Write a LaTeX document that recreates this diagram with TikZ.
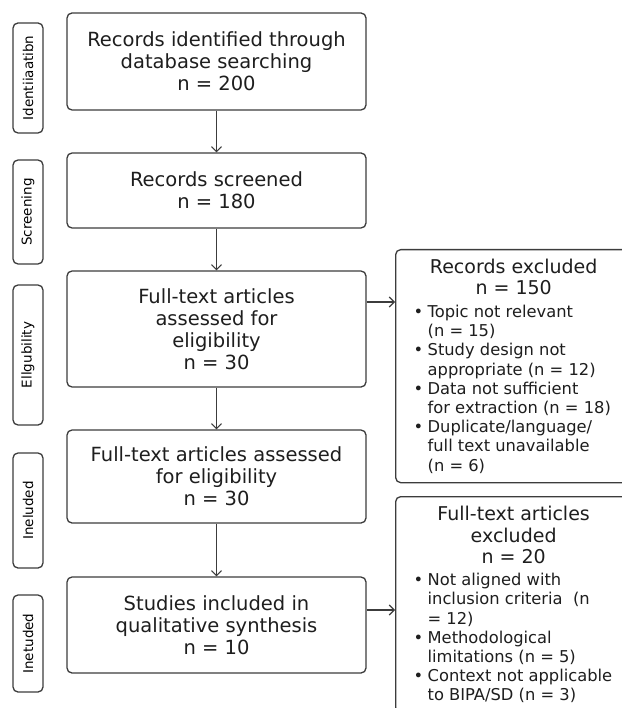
\documentclass[tikz,border=0pt]{standalone}
\usepackage{fontspec}
\setmainfont{DejaVu Sans}
\usetikzlibrary{arrows.meta}

\definecolor{linegray}{HTML}{3C3C3C}
\definecolor{textgray}{HTML}{1E1E1E}

\newcommand{\bul}{\makebox[14pt][l]{\textbullet}}
\newcommand{\exline}[1]{\makebox[200pt][l]{#1}}
\newcommand{\excont}[1]{\makebox[200pt][l]{\hspace*{14pt}#1}}
\newcommand{\exhead}[1]{{\fontsize{19}{19.2}\selectfont #1}}

\tikzset{
  stage/.style={draw=linegray, fill=white, line width=1.3pt, rounded corners=5pt, minimum width=299pt, inner sep=0pt, align=center, text=textgray, font=\fontsize{19.5}{22}\selectfont},
  phase/.style={draw=linegray, fill=white, line width=1.3pt, rounded corners=5pt, rotate=90, minimum height=30pt, inner sep=0pt, text=black, font=\fontsize{13.5}{15}\selectfont},
  exclbox/.style={draw=linegray, fill=white, line width=1.3pt, rounded corners=5pt, anchor=north west, minimum width=236pt, inner sep=0pt, align=center, text=textgray, font=\fontsize{16.3}{19.2}\selectfont},
  arr/.style={draw=linegray, line width=1.1pt, -{Straight Barb[length=5pt,width=10pt]}}
}

\begin{document}
\begin{tikzpicture}[x=1pt,y=-1pt]

\useasboundingbox (0,0) rectangle (621,708);

% phases on the left
\node[phase, minimum width=110pt] (pident) at (28,78) {Identiiaatibn};
\node[phase, minimum width=104pt] (pscreen) at (28,212) {Screening};
\node[phase, minimum width=140pt] (pelig) at (28,355) {Ellgubility};
\node[phase, minimum width=115pt] (pincl) at (28,510.5) {Ineluded};
\node[phase, minimum width=97pt] (pinet) at (28,643.5) {Inetuded};

% main flow
\node[stage, minimum height=97pt] (ident) at (216.5,61.5) {Records identified through\\database searching\\n = 200};
\node[stage, minimum height=75pt] (screen) at (216.5,190.5) {Records screened\\n = 180};
\node[stage, minimum height=116pt] (elig) at (216.5,329) {Full-text articles\\assessed for\\eligibility\\n = 30};
\node[stage, minimum height=93pt] (incl) at (216.5,476.5) {Full-text articles assessed\\for eligibility\\n = 30};
\node[stage, minimum height=96pt] (synth) at (216.5,625) {Studies included in\\qualitative synthesis\\n = 10};

% exclusions
\node[exclbox, minimum height=233pt] (excl1) at (395,249) {\exhead{Records excluded}\\[1.8pt]
  \exhead{n = 150}\\[3.8pt]
  \exline{\bul Topic not relevant}\\
  \excont{(n = 15)}\\
  \exline{\bul Study design not}\\
  \excont{appropriate (n = 12)}\\
  \exline{\bul Data not sufficient}\\
  \excont{for extraction (n = 18)}\\
  \exline{\bul Duplicate/language/}\\
  \excont{full text unavailable}\\
  \excont{(n = 6)}};

\node[exclbox, minimum height=216pt] (excl2) at (395,496) {\exhead{Full-text articles}\\[2.3pt]
  \exhead{excluded}\\[2.3pt]
  \exhead{n = 20}\\[2.8pt]
  \exline{\bul Not aligned with}\\
  \excont{inclusion criteria\ \ (n}\\
  \excont{= 12)}\\
  \exline{\bul Methodological}\\
  \excont{limitations (n = 5)}\\
  \exline{\bul Context not applicable}\\
  \excont{to BIPA/SD (n = 3)}};

% arrows
\draw[arr] (ident) -- (screen);
\draw[arr] (screen) -- (elig);
\draw[arr] (elig) -- (incl);
\draw[arr] (incl) -- (synth);
\draw[arr] ([yshift=27pt]elig.east) -- ([yshift=27pt]elig.east -| excl1.west);
\draw[arr] ([yshift=15pt]synth.east) -- ([yshift=15pt]synth.east -| excl2.west);

\end{tikzpicture}
\end{document}
